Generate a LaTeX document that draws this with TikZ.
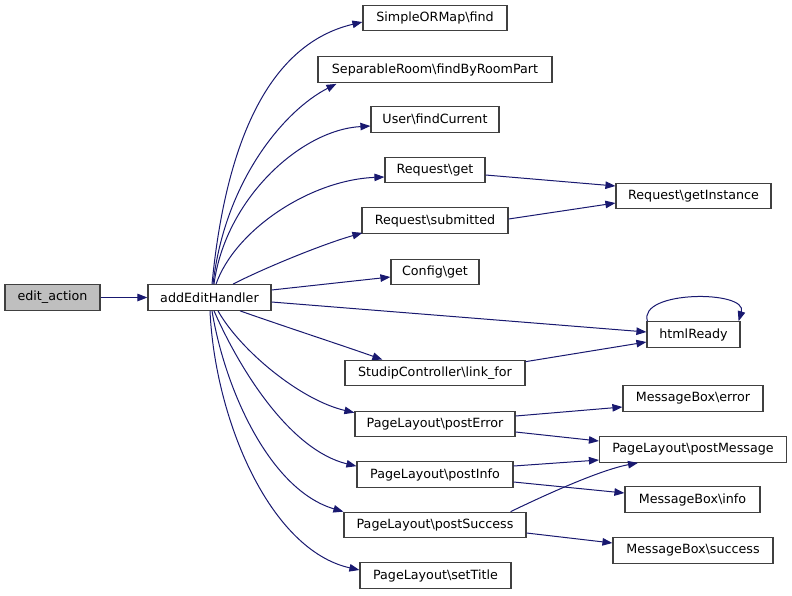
\documentclass[tikz,border=0pt]{standalone}
\usepackage{fontspec}
\setmainfont{DejaVu Sans}
\usetikzlibrary{arrows.meta}
\definecolor{edgecol}{HTML}{191970}
\definecolor{boxline}{HTML}{404040}
\definecolor{curfill}{HTML}{BFBFBF}
\begin{document}
\begin{tikzpicture}[x=1pt,y=-1pt,
  fn/.style={draw=boxline,line width=1.2pt,fill=white,inner sep=0pt,
    minimum height=25.5pt,font=\fontsize{12.7}{15}\selectfont,text=black,anchor=center},
  cur/.style={fn,fill=curfill},
  call/.style={draw=edgecol,line width=1pt,-{Triangle[length=10pt,width=7.5pt]},fill=none}]
\useasboundingbox (0,0) rectangle (792,595);
\fill[white] (0,0) rectangle (792,595);
% nodes
\node[cur,minimum width=95pt]  (ea)   at (52.5,297.5) {edit\_action};
\node[fn,minimum width=123pt]  (aeh)  at (209.5,297.5) {addEditHandler};
\node[fn,minimum width=144pt]  (sorm) at (435,18) {SimpleORMap\textbackslash find};
\node[fn,minimum width=234pt]  (sep)  at (435,69.5) {SeparableRoom\textbackslash findByRoomPart};
\node[fn,minimum width=128pt]  (usr)  at (435,119.5) {User\textbackslash findCurrent};
\node[fn,minimum width=100pt]  (rget) at (435,170) {Request\textbackslash get};
\node[fn,minimum width=146pt]  (rsub) at (435,220.5) {Request\textbackslash submitted};
\node[fn,minimum width=88pt]   (cfg)  at (435,272) {Config\textbackslash get};
\node[fn,minimum width=180pt]  (sc)   at (435,373) {StudipController\textbackslash link\_for};
\node[fn,minimum width=160pt]  (perr) at (435,424) {PageLayout\textbackslash postError};
\node[fn,minimum width=156pt]  (pinf) at (435,474.5) {PageLayout\textbackslash postInfo};
\node[fn,minimum width=182pt]  (psuc) at (435,525) {PageLayout\textbackslash postSuccess};
\node[fn,minimum width=151pt]  (pst)  at (435.5,575.5) {PageLayout\textbackslash setTitle};
\node[fn,minimum width=155pt]  (gi)   at (693.5,196) {Request\textbackslash getInstance};
\node[fn,minimum width=93pt]   (html) at (693.5,334.5) {htmlReady};
\node[fn,minimum width=140pt]  (merr) at (693,398.5) {MessageBox\textbackslash error};
\node[fn,minimum width=187pt]  (pm)   at (693,449.5) {PageLayout\textbackslash postMessage};
\node[fn,minimum width=135pt]  (minf) at (692.5,499.5) {MessageBox\textbackslash info};
\node[fn,minimum width=160pt]  (msuc) at (693,550.5) {MessageBox\textbackslash success};
% edges
\draw[call] (ea.east) -- (aeh.west);
\draw[call] ([xshift=2.5pt]aeh.north) .. controls (225,150) and (265,45) .. ([yshift=-4pt]sorm.west);
\draw[call] ([xshift=3.5pt]aeh.north) .. controls (225,180) and (285,110) .. ([xshift=19pt,yshift=-1pt]sep.south west);
\draw[call] ([xshift=4.5pt]aeh.north) .. controls (225,200) and (300,130) .. ([yshift=-6.5pt]usr.west);
\draw[call] ([xshift=6.5pt]aeh.north) .. controls (235,230) and (310,180) .. ([yshift=-7pt]rget.west);
\draw[call] ([xshift=23.5pt]aeh.north) .. controls (260,270) and (320,245) .. ([xshift=1pt,yshift=1pt]rsub.south west);
\draw[call] ([yshift=7.5pt]aeh.east) -- ([yshift=-5pt]cfg.west);
\draw[call] ([yshift=-4.5pt]aeh.east) -- ([yshift=2.5pt]html.west);
\draw[call] ([xshift=30.5pt]aeh.south) .. controls (280,325) and (350,348) .. ([xshift=38pt]sc.north west);
\draw[call] ([xshift=8.5pt]aeh.south) .. controls (240,350) and (300,400) .. ([yshift=-2pt]perr.north west);
\draw[call] ([xshift=4.5pt]aeh.south) .. controls (240,370) and (290,450) .. ([yshift=-5pt]pinf.north west);
\draw[call] ([xshift=2.5pt]aeh.south) .. controls (225,390) and (270,490) .. (psuc.north west);
\draw[call] ([xshift=0.5pt]aeh.south) .. controls (215,420) and (270,550) .. ([yshift=5.5pt]pst.west);
\draw[call] ([yshift=-5pt]rget.east) -- ([yshift=10pt]gi.west);
\draw[call] ([yshift=1.5pt]rsub.east) -- ([yshift=-7pt]gi.west);
\draw[call] ([yshift=-2pt]sc.north east) -- ([yshift=-7.5pt]html.west);
\draw[call] ([xshift=1pt]html.north west) .. controls (638,290) and (748,290) .. ([xshift=-2pt]html.north east);
\draw[call] ([yshift=8pt]perr.east) -- ([yshift=-8.5pt]merr.west);
\draw[call] ([yshift=-8pt]perr.east) -- ([yshift=8.5pt]pm.west);
\draw[call] ([yshift=8.5pt]pinf.east) -- ([yshift=-10.5pt]pm.west);
\draw[call] ([yshift=-7.5pt]pinf.east) -- ([yshift=6.5pt]minf.west);
\draw[call] ([xshift=-16pt]psuc.north east) .. controls (545,495) and (600,470) .. ([xshift=-55pt]pm.south);
\draw[call] ([yshift=-8pt]psuc.east) -- ([yshift=7.5pt]msuc.west);
\end{tikzpicture}
\end{document}
